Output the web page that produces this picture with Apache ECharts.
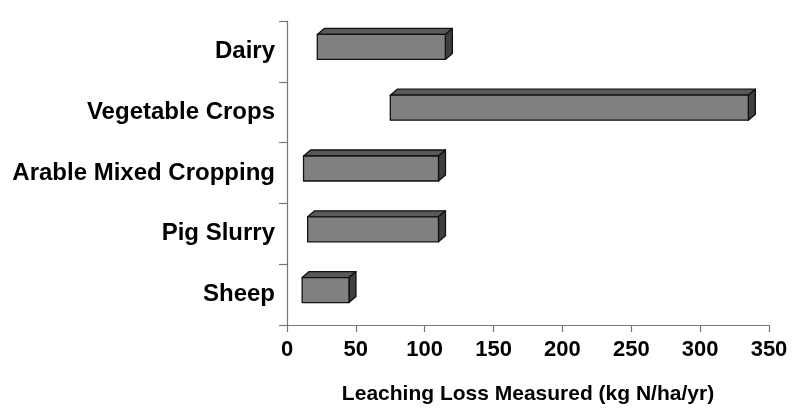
<!DOCTYPE html>
<html>
<head>
<meta charset="utf-8">
<script src="https://cdn.jsdelivr.net/npm/echarts@6/dist/echarts.min.js"></script>
<style>html,body{margin:0;padding:0;background:#fff;}#c{width:793px;height:416px;}</style>
</head>
<body>
<div id="c"></div>
<script>
var categories = ['Dairy', 'Vegetable Crops', 'Arable Mixed Cropping', 'Pig Slurry', 'Sheep'];
var lowValues = [22, 75, 12, 15, 11];
var highValues = [115, 335, 110, 110, 45];
var xTicks = [0, 50, 100, 150, 200, 250, 300, 350];

var data = categories.map(function (c, i) { return [i, lowValues[i], highValues[i]]; });

var chart = echarts.init(document.getElementById('c'), null, {renderer: 'canvas'});
var FONT = '"Liberation Sans", Arial, sans-serif';

function renderItem(params, api) {
  var idx = api.value(0);
  var p0 = api.coord([api.value(1), idx]);
  var p1 = api.coord([api.value(2), idx]);
  var h = 25, dx = 7, dy = 6, off = -4.5;
  var x0 = p0[0], x1 = p1[0];
  var yTop = p0[1] + off - h / 2, yBot = p0[1] + off + h / 2;
  var line = {stroke: '#111', lineWidth: 1.3, lineJoin: 'round'};
  return {
    type: 'group',
    children: [
      {type: 'polygon', shape: {points: [[x0, yTop], [x0 + dx, yTop - dy], [x1 + dx, yTop - dy], [x1, yTop]]},
        style: Object.assign({fill: '#595959'}, line)},
      {type: 'polygon', shape: {points: [[x1, yTop], [x1 + dx, yTop - dy], [x1 + dx, yBot - dy], [x1, yBot]]},
        style: Object.assign({fill: '#3f3f3f'}, line)},
      {type: 'rect', shape: {x: x0, y: yTop, width: x1 - x0, height: h},
        style: Object.assign({fill: '#808080'}, line)}
    ]
  };
}

chart.setOption({
  animation: false,
  grid: {left: 287, right: 24, top: 21, bottom: 91, containLabel: false},
  xAxis: {
    type: 'value', min: xTicks[0], max: xTicks[xTicks.length - 1], interval: 50,
    splitLine: {show: false},
    axisLine: {show: true, lineStyle: {color: '#777', width: 1.2}},
    axisTick: {show: true, length: 7, lineStyle: {color: '#777', width: 1.2}},
    axisLabel: {fontFamily: FONT, fontWeight: 'bold', fontSize: 22, color: '#000', margin: 14},
    name: 'Leaching Loss Measured (kg N/ha/yr)',
    nameLocation: 'middle', nameGap: 59,
    nameTextStyle: {fontFamily: FONT, fontWeight: 'bold', fontSize: 21, color: '#000'}
  },
  yAxis: {
    type: 'category', data: categories, inverse: true,
    axisLine: {show: true, lineStyle: {color: '#777', width: 1.2}},
    axisTick: {show: true, length: 8, lineStyle: {color: '#777', width: 1.2}},
    axisLabel: {fontFamily: FONT, fontWeight: 'bold', fontSize: 24, color: '#000', margin: 12}
  },
  series: [{
    type: 'custom',
    renderItem: renderItem,
    encode: {x: [1, 2], y: 0},
    data: data
  }]
});
</script>
</body>
</html>
